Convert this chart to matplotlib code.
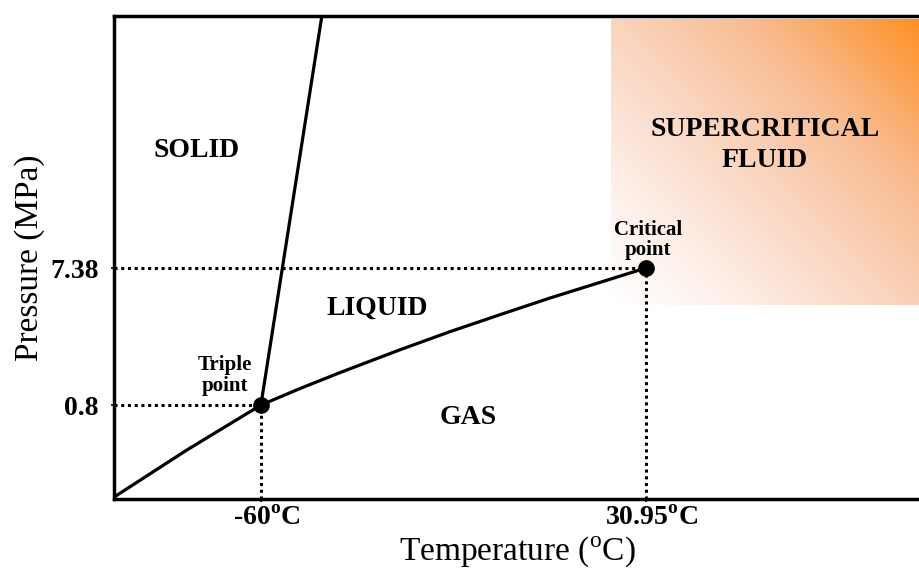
import matplotlib

matplotlib.use('Agg')
import matplotlib.pyplot as plt
import matplotlib.transforms as mtransforms
import numpy as np
from matplotlib.colors import LinearSegmentedColormap

plt.rcParams['font.family'] = ['Liberation Serif', 'DejaVu Serif']
plt.rcParams['mathtext.fontset'] = 'custom'
plt.rcParams['mathtext.rm'] = 'Liberation Serif'
plt.rcParams['mathtext.bf'] = 'Liberation Serif:bold'

# phase diagram of CO2 (schematic), temperature in degC, pressure in MPa
triple_point = (-60.0, 0.8)
critical_point = (30.95, 7.38)

# sublimation + vaporization curve
boil_temp = [-94.7, -77.5, -60.0, -50.8, -41.3, -27.2, -15.4, -3.5, 8.3, 20.1, 30.95]
boil_pres = [-3.62, -1.36, 0.8, 1.59, 2.36, 3.45, 4.32, 5.14, 5.94, 6.69, 7.38]

# melting line: from the triple point up through the top edge
melt_temp = [-60.0, -45.2]
melt_pres = [0.8, 20.0]

x_ticks = [-60.0, 30.95]
x_ticklabels = [r'-60$^{\mathbf{o}}$C', r'30.95$^{\mathbf{o}}$C']
y_ticks = [0.8, 7.38]
y_ticklabels = ['0.8', '7.38']

region_labels = [
    ('SOLID', -75.3, 13.0),
    ('LIQUID', -32.4, 5.45),
    ('GAS', -11.1, 0.2),
    ('SUPERCRITICAL\nFLUID', 59.1, 13.3),
]

xmin, xmax = -94.7, 95.7
ymin, ymax = -3.71, 19.48

fig = plt.figure(figsize=(9.2, 5.72), dpi=100)
ax = fig.add_axes([114 / 920, 73 / 572, 1 - 114 / 920, 483 / 572])

# supercritical region: gradient white (bottom-left) -> orange (top-right)
sc_x0, sc_x1 = 22.7, xmax
sc_y0, sc_y1 = 5.6, 19.3
u, v = np.meshgrid(np.linspace(0, 1, 200), np.linspace(0, 1, 200))
t = np.clip(0.52 * u + 0.48 * v, 0, 1) ** 1.2
cmap = LinearSegmentedColormap.from_list(
    'sc', ['#ffffff', '#fbdccb', '#f8bb90', '#ff9022'])
ax.imshow(t, cmap=cmap, origin='lower', aspect='auto',
          extent=(sc_x0, sc_x1, sc_y0, sc_y1), zorder=0, interpolation='bilinear')

# phase boundaries
ax.plot(boil_temp, boil_pres, color='black', lw=2.3, zorder=3, solid_joinstyle='round')
ax.plot(melt_temp, melt_pres, color='black', lw=2.3, zorder=3)

# dotted guides
for px, py in (triple_point, critical_point):
    ax.plot([xmin, px], [py, py], color='black', lw=2.2, ls=(0, (1, 1.2)), zorder=2)
    ax.plot([px, px], [ymin, py], color='black', lw=2.2, ls=(0, (1, 1.2)), zorder=2)

ax.plot(*triple_point, 'o', color='black', ms=11, zorder=4)
ax.plot(*critical_point, 'o', color='black', ms=11, zorder=4)

for text, tx, ty in region_labels:
    ax.text(tx, ty, text, ha='center', va='center', fontsize=20,
            fontweight='bold', linespacing=1.3)

ax.text(-68.5, 1.25, 'Triple\npoint', ha='center', va='bottom', fontsize=15,
        fontweight='bold', linespacing=1.05)
ax.text(31.4, 7.75, 'Critical\npoint', ha='center', va='bottom', fontsize=15,
        fontweight='bold', linespacing=1.05)

ax.set_xlim(xmin, xmax)
ax.set_ylim(ymin, ymax)
ax.set_xticks(x_ticks)
ax.set_xticklabels(x_ticklabels, fontsize=20, fontweight='bold')
ax.set_yticks(y_ticks)
ax.set_yticklabels(y_ticklabels, fontsize=20, fontweight='bold')
ax.tick_params(length=2, width=1.2)
ax.tick_params(axis='x', pad=3)
ax.tick_params(axis='y', pad=9)
shift = mtransforms.ScaledTranslation(6 / 100, 0, fig.dpi_scale_trans)
for lbl in ax.get_xticklabels():
    lbl.set_transform(lbl.get_transform() + shift)

for side in ('left', 'bottom', 'top'):
    ax.spines[side].set_linewidth(2.5)
ax.spines['right'].set_visible(False)

ax.set_xlabel(r'Temperature ($^{\rm o}$C)', fontsize=24, labelpad=2)
ax.set_ylabel('Pressure (MPa)', fontsize=24, labelpad=4)

fig.savefig('out.png', dpi=100)
